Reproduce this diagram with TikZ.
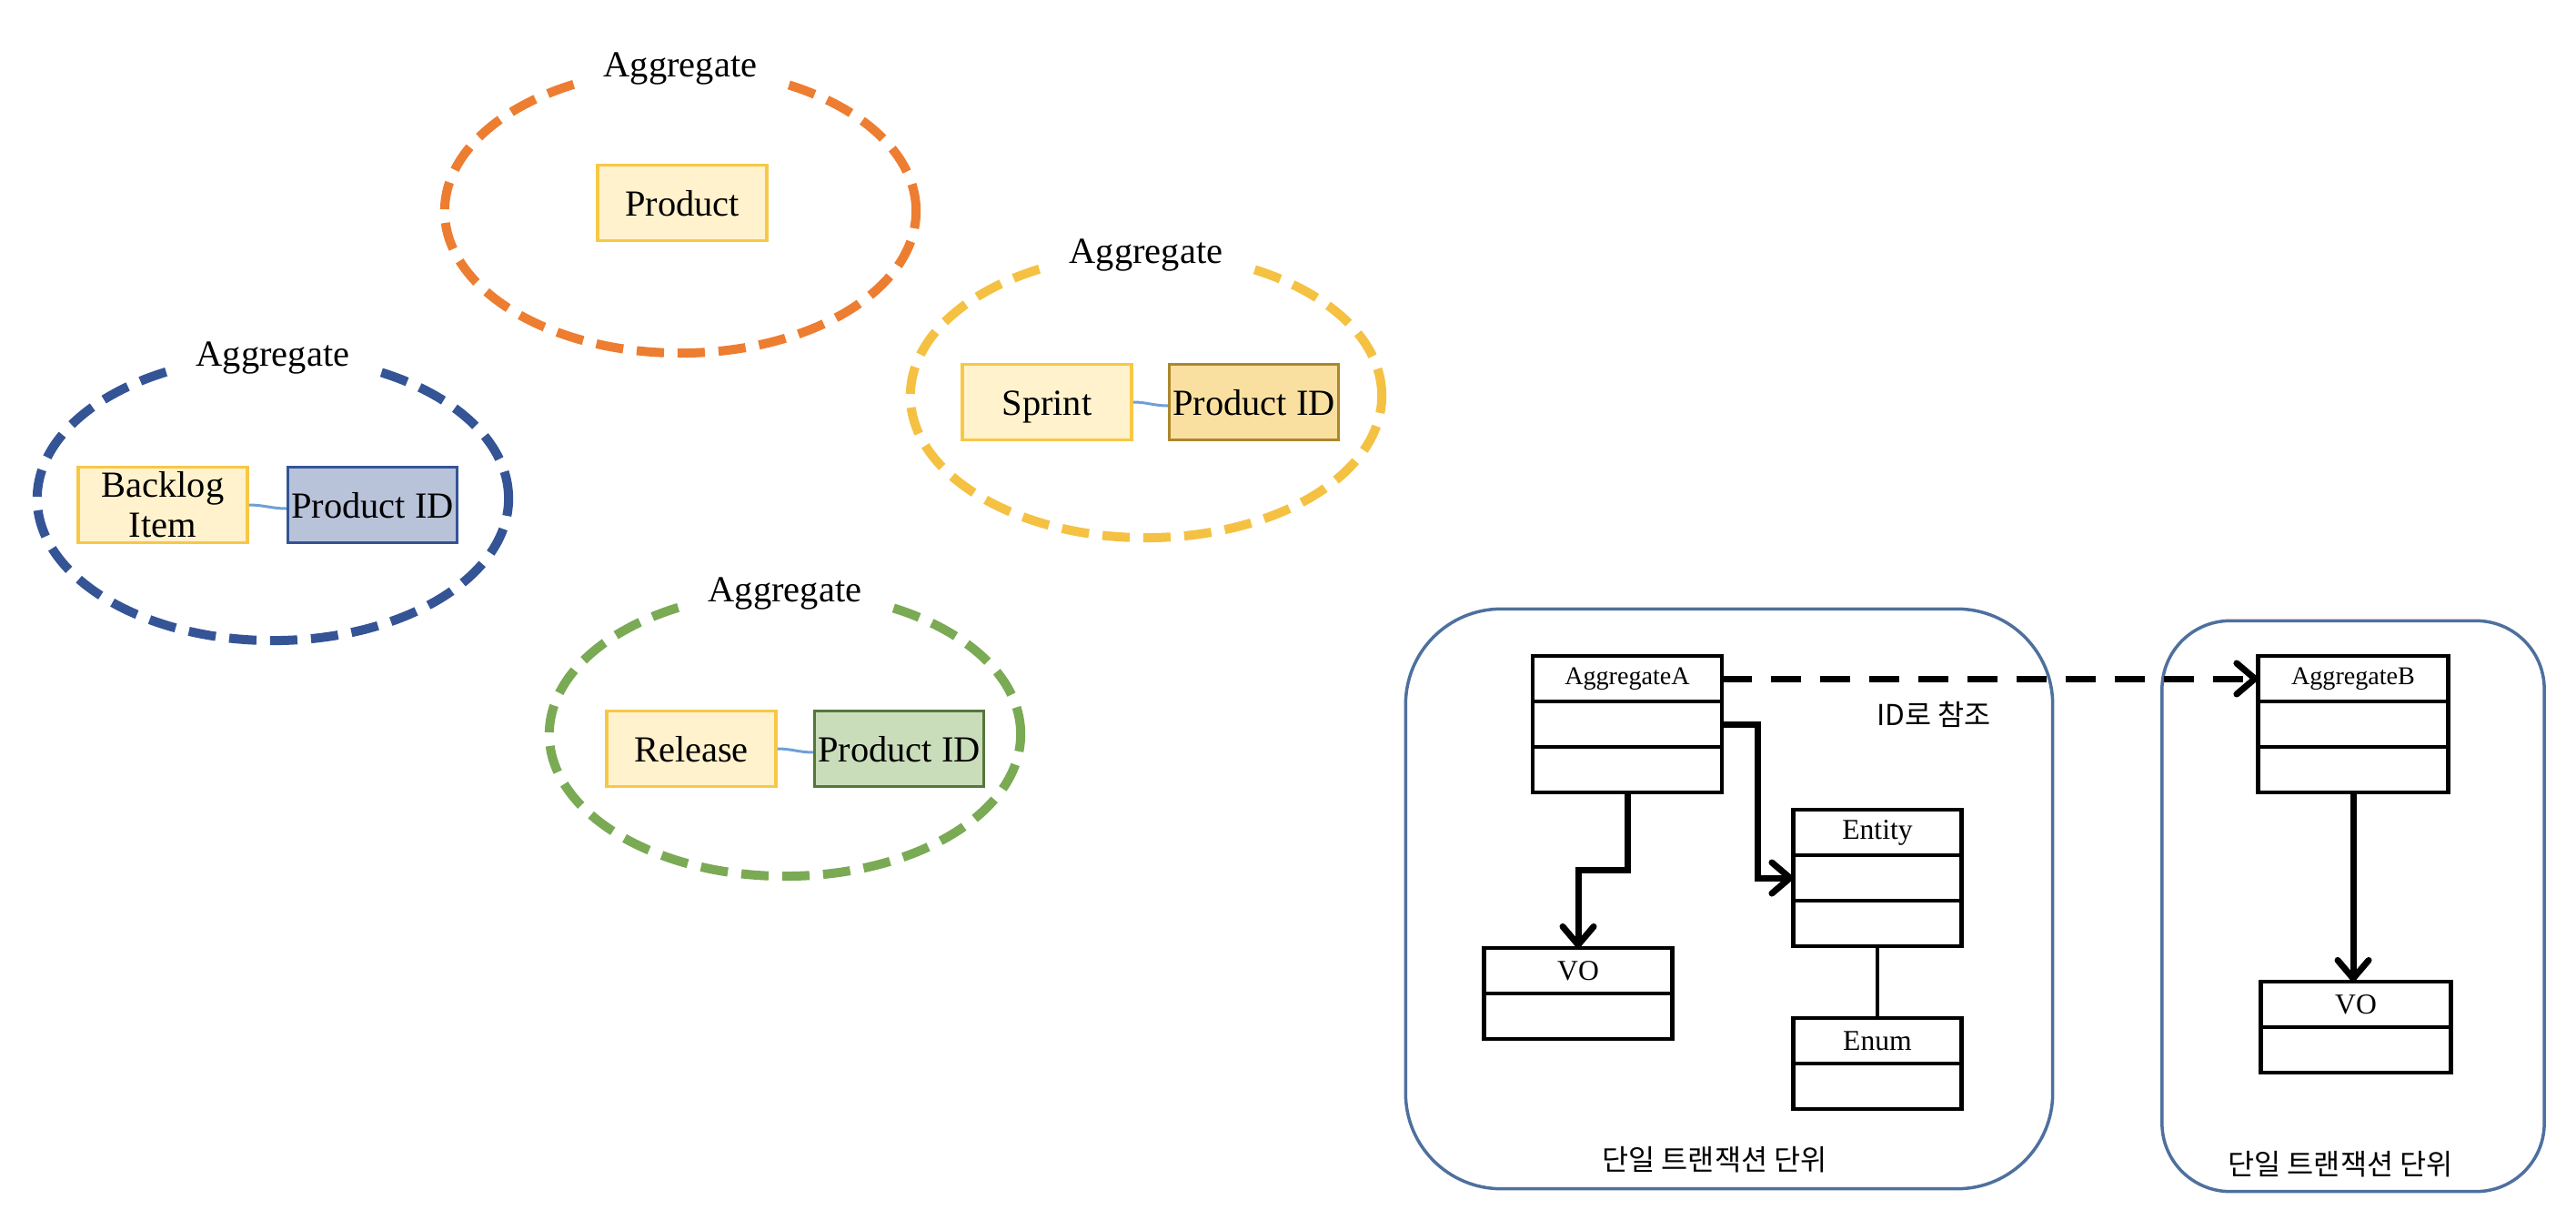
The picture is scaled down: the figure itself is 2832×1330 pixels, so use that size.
\documentclass[tikz,border=0pt]{standalone}
\usepackage{fontspec}
\setmainfont{Liberation Serif}
\newfontfamily\krfont{Noto Sans CJK KR}
\usetikzlibrary{positioning,shapes.geometric,arrows.meta}

\definecolor{aggorange}{RGB}{237,125,49}
\definecolor{agggold}{RGB}{245,193,66}
\definecolor{aggblue}{RGB}{52,84,150}
\definecolor{agggreen}{RGB}{122,170,84}
\definecolor{entfill}{RGB}{255,242,204}
\definecolor{entdraw}{RGB}{247,200,70}
\definecolor{linkblue}{RGB}{110,160,215}
\definecolor{txdraw}{RGB}{78,112,158}

\tikzset{
	agg/.style={ellipse, draw=#1, line width=0.1cm, dash pattern=on 0.3cm off 0.15cm,
		minimum width=5.18cm, minimum height=3.12cm},
	agglabel/.style={fill=white, inner xsep=0.3cm, minimum height=0.56cm,
		font=\fontsize{11.5}{13}\selectfont},
	ent/.style={draw=entdraw, fill=entfill, line width=0.035cm, minimum width=1.86cm,
		minimum height=0.83cm, inner sep=0pt, align=center, text height=0.38cm, text depth=0.09cm,
		font=\fontsize{11.5}{12.5}\selectfont},
	pid/.style 2 args={ent, draw=#1, fill=#2},
	link/.style={draw=linkblue, line width=0.03cm},
	uml/.style={draw, line width=0.045cm, minimum width=#1, minimum height=0.5cm,
		inner sep=0pt, outer sep=0pt, font=\fontsize{9}{10}\selectfont},
	txbox/.style={draw=txdraw, line width=0.035cm, rounded corners=#1},
	txlabel/.style={font=\krfont\fontsize{9}{10}\selectfont},
	comp/.style={line width=0.07cm, -{Straight Barb[length=0.2cm, width=0.34cm, round]}},
	idref/.style={comp, dash pattern=on 0.33cm off 0.21cm}
}

\begin{document}
\begin{tikzpicture}[x=0.01cm, y=-0.01cm]
	\useasboundingbox (0,0) rectangle (2832,1330);

	\node[agg=aggorange] (prodAgg) at (748,232) {};
	\node[agglabel] (prodLbl) at ([yshift=-0.05cm]prodAgg.north) {Aggregate};
	\node[ent] (prod) at (750,223) {Product};

	\node[agg=agggold] (sprintAgg) at (1260,435) {};
	\node[agglabel] (sprintLbl) at ([yshift=-0.07cm]sprintAgg.north) {Aggregate};
	\node[ent] (sprint) at (1151,442) {Sprint};
	\node[pid={agggold!70!black}{agggold!50}, right=0.38cm of sprint] (sprintPid) {Product ID};
	\draw[link] (sprint.east) to[out=0, in=180] ([yshift=-0.04cm]sprintPid.west);

	\node[agg=aggblue] (backlogAgg) at (300,548) {};
	\node[agglabel] (backlogLbl) at ([yshift=-0.07cm]backlogAgg.north) {Aggregate};
	\node[ent, text height=, text depth=] (backlog) at (179,555) {Backlog\\Item};
	\node[pid={aggblue}{aggblue!35}, right=0.41cm of backlog] (backlogPid) {Product ID};
	\draw[link] (backlog.east) to[out=0, in=180] ([yshift=-0.04cm]backlogPid.west);

	\node[agg=agggreen] (releaseAgg) at (863,807) {};
	\node[agglabel] (releaseLbl) at ([yshift=-0.07cm]releaseAgg.north) {Aggregate};
	\node[ent] (release) at (760,823) {Release};
	\node[pid={agggreen!70!black}{agggreen!40}, right=0.39cm of release] (releasePid) {Product ID};
	\draw[link] (release.east) to[out=0, in=180] ([yshift=-0.04cm]releasePid.west);

	\node[txbox=1.05cm, minimum width=7.11cm, minimum height=6.37cm] (txA) at (1901,988) {};
	\node[txbox=0.75cm, minimum width=4.2cm, minimum height=6.27cm] (txB) at (2587,996) {};
	\node[txlabel] (txALbl) at (1885,1275) {단일 트랜잭션 단위};
	\node[txlabel] (txBLbl) at (2573,1280) {단일 트랜잭션 단위};
	\node[txlabel] (refLbl) at (2126,785) {ID로 참조};

	\node[uml=2.08cm, font=\fontsize{8}{9}\selectfont] (aggA) at (1789,746) {AggregateA};
	\node[uml=2.08cm, below=0pt of aggA] (aggA2) {};
	\node[uml=2.08cm, below=0pt of aggA2] (aggA3) {};

	\node[uml=1.85cm] (ent) at (2064,915) {Entity};
	\node[uml=1.85cm, below=0pt of ent] (ent2) {};
	\node[uml=1.85cm, below=0pt of ent2] (ent3) {};

	\node[uml=1.85cm] (enum) at (2064,1144) {Enum};
	\node[uml=1.85cm, below=0pt of enum] (enum2) {};

	\node[uml=2.07cm] (voA) at (1735,1067) {VO};
	\node[uml=2.07cm, below=0pt of voA] (voA2) {};

	\node[uml=2.09cm, font=\fontsize{8}{9}\selectfont] (aggB) at (2587,746) {AggregateB};
	\node[uml=2.09cm, below=0pt of aggB] (aggB2) {};
	\node[uml=2.09cm, below=0pt of aggB2] (aggB3) {};

	\node[uml=2.09cm] (voB) at (2590,1104) {VO};
	\node[uml=2.09cm, below=0pt of voB] (voB2) {};

	\draw[comp] (aggA3.south) -- ++(0,85) -| (voA.north);
	\draw[comp] (aggA2.east) -- ++(39,0) |- (ent2.west);
	\draw[line width=0.035cm] (ent3.south) -- (enum.north);
	\draw[comp] (aggB3.south) -- (aggB3.south |- voB.north);
	\draw[idref] (aggA.east) -- (aggB.west);
\end{tikzpicture}
\end{document}
